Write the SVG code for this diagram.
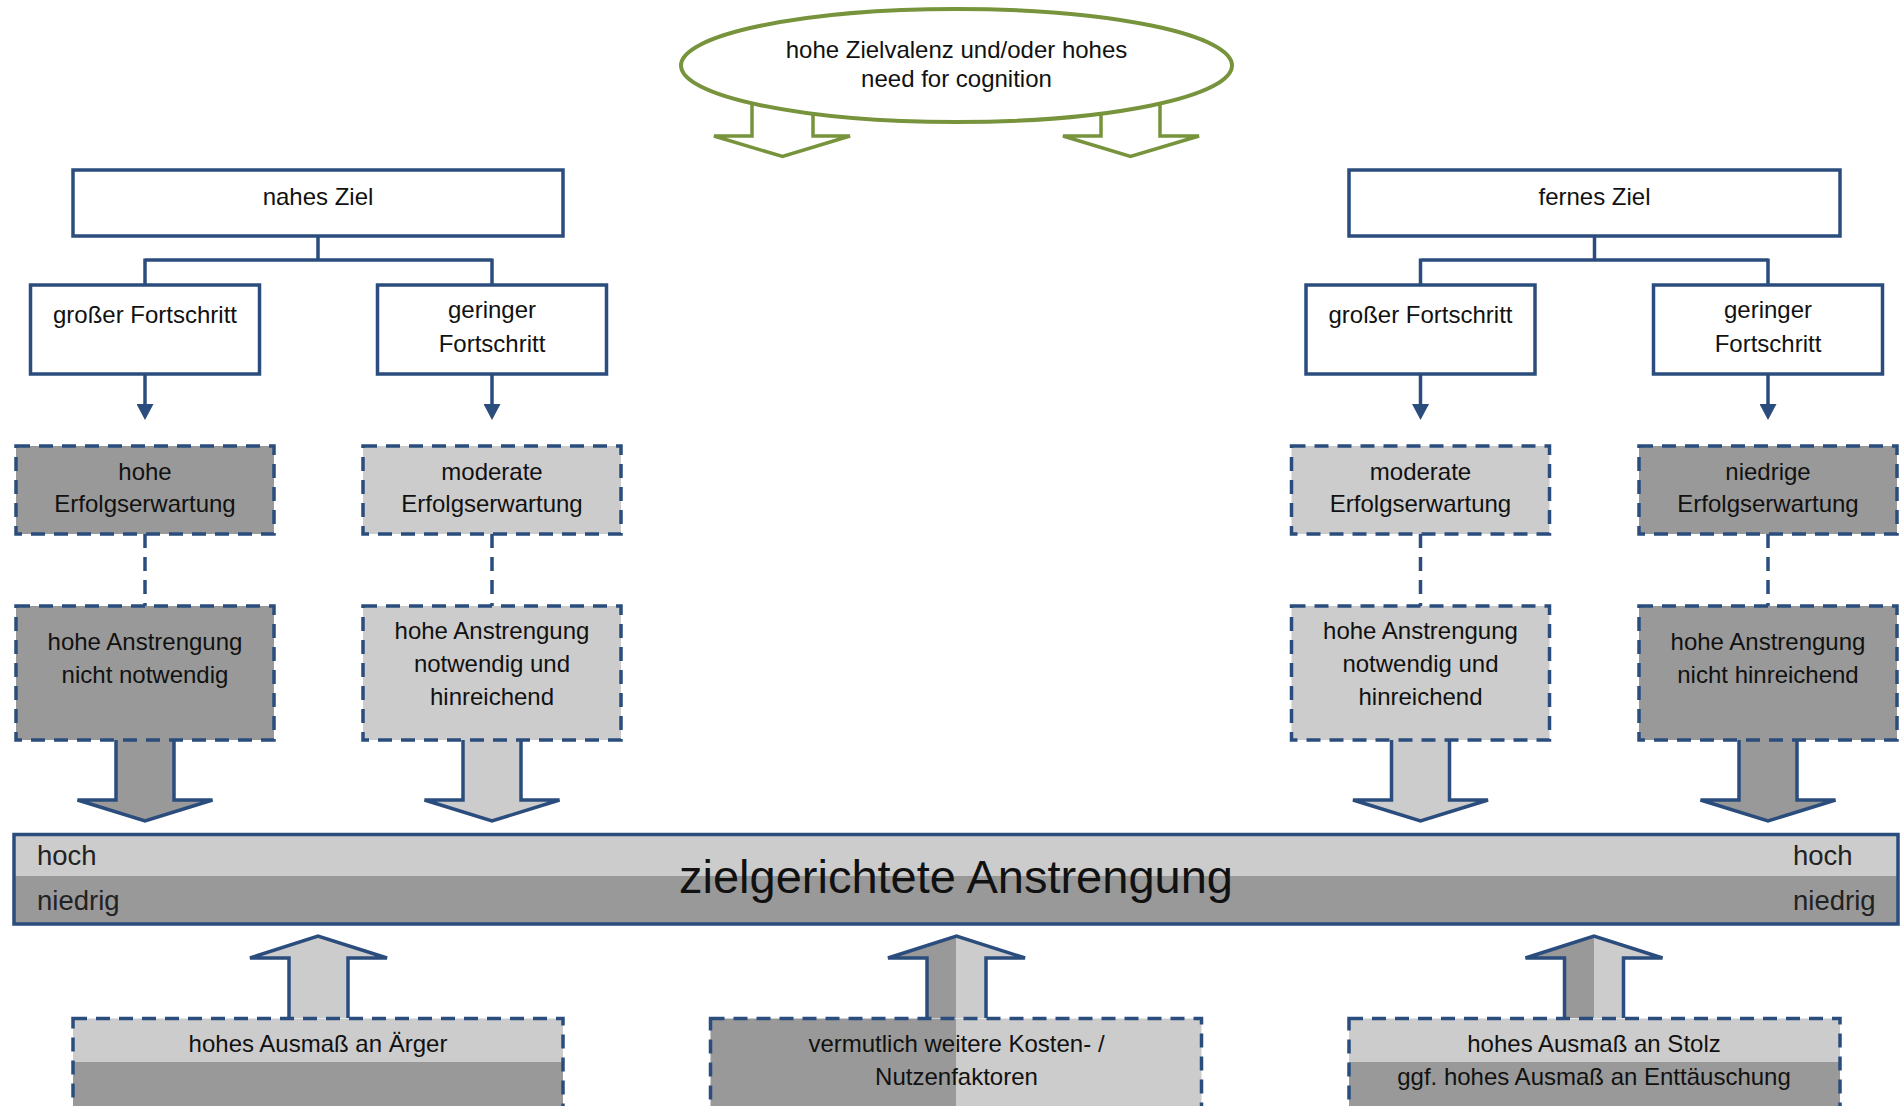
<svg xmlns="http://www.w3.org/2000/svg" width="1901" height="1106" viewBox="0 0 1901 1106">
<style>
.t{font-family:"Liberation Sans",Arial,sans-serif;font-size:24px;fill:#111;text-anchor:middle}
.big{font-size:47px}
.hl{font-family:"Liberation Sans",Arial,sans-serif;font-size:27.5px;fill:#222}
.solid{fill:#fff;stroke:#2B4D7E;stroke-width:3.5}
.db{stroke:#2B4D7E;stroke-width:3.5;stroke-dasharray:14 9}
.dk{fill:#999}
.lt{fill:#ccc}
.nf{fill:none}
.ln{fill:none;stroke:#2B4D7E;stroke-width:3.5}
.dl{fill:none;stroke:#2B4D7E;stroke-width:3.5;stroke-dasharray:14 9}
.ga{fill:#fff;stroke:#77933C;stroke-width:3.5}
.bo{stroke:#2B4D7E;stroke-width:3.5;stroke-linejoin:miter}
</style>
<defs>
<marker id="ah" markerUnits="userSpaceOnUse" markerWidth="16" markerHeight="17" viewBox="0 0 16 17" refX="0" refY="8.5" orient="auto">
<path d="M0,0 L16,8.5 L0,17 z" fill="#2B4D7E"/>
</marker>
</defs>
<rect width="1901" height="1106" fill="#fff"/>

<g id="connectors">
<path class="ga" d="M752,95 L752,136 L714,136 L782.5,156.5 L850,136 L813,136 L813,95"/>
<path class="ga" d="M1101,95 L1101,136 L1063,136 L1130.5,156.5 L1199,136 L1160,136 L1160,95"/>
<path class="ln" d="M318,236 L318,260 M145,260 L492,260 M145,258.5 L145,285 M492,258.5 L492,285"/>
<path class="ln" d="M1594.5,236 L1594.5,260 M1420.5,260 L1768,260 M1420.5,258.5 L1420.5,285 M1768,258.5 L1768,285"/>
<line class="ln" x1="145" y1="374" x2="145" y2="404" marker-end="url(#ah)"/>
<line class="ln" x1="492" y1="374" x2="492" y2="404" marker-end="url(#ah)"/>
<line class="ln" x1="1420.5" y1="374" x2="1420.5" y2="404" marker-end="url(#ah)"/>
<line class="ln" x1="1768" y1="374" x2="1768" y2="404" marker-end="url(#ah)"/>
<line class="dl" x1="145" y1="534" x2="145" y2="606"/>
<line class="dl" x1="492" y1="534" x2="492" y2="606"/>
<line class="dl" x1="1420.5" y1="534" x2="1420.5" y2="606"/>
<line class="dl" x1="1768" y1="534" x2="1768" y2="606"/>
<path class="dk bo" d="M116,740 L116,800 L77.5,800 L145,821 L212.5,800 L174,800 L174,740"/>
<path class="lt bo" d="M463,740 L463,800 L424.5,800 L492,821 L559.5,800 L521,800 L521,740"/>
<path class="lt bo" d="M1391.5,740 L1391.5,800 L1353,800 L1420.5,821 L1488,800 L1449.5,800 L1449.5,740"/>
<path class="dk bo" d="M1739,740 L1739,800 L1700.5,800 L1768,821 L1835.5,800 L1797,800 L1797,740"/>
<path class="lt" d="M289,1018 L289,958 L250,958 L318,936 L387,958 L348,958 L348,1018 Z"/>
<path class="ln" d="M289,1018 L289,958 L250,958 L318,936 L387,958 L348,958 L348,1018"/>
<path class="dk" d="M956.5,936 L888,958 L927,958 L927,1018 L956.5,1018 Z"/>
<path class="lt" d="M956.5,936 L1025,958 L986,958 L986,1018 L956.5,1018 Z"/>
<path class="ln" d="M927,1018 L927,958 L888,958 L956.5,936 L1025,958 L986,958 L986,1018"/>
<path class="dk" d="M1594,936 L1525.5,958 L1564.5,958 L1564.5,1018 L1594,1018 Z"/>
<path class="lt" d="M1594,936 L1662.5,958 L1623.5,958 L1623.5,1018 L1594,1018 Z"/>
<path class="ln" d="M1564.5,1018 L1564.5,958 L1525.5,958 L1594,936 L1662.5,958 L1623.5,958 L1623.5,1018"/>
</g>

<g id="node-ellipse">
<ellipse cx="956.5" cy="65.5" rx="275.5" ry="56.5" fill="#fff" stroke="#77933C" stroke-width="4"/>
<text class="t" x="956.5" y="58">hohe Zielvalenz und/oder hohes</text>
<text class="t" x="956.5" y="87">need for cognition</text>
</g>

<g id="node-nahes-ziel">
<rect class="solid" x="73" y="170" width="490" height="66"/>
<text class="t" x="318" y="205">nahes Ziel</text>
</g>
<g id="node-fernes-ziel">
<rect class="solid" x="1349" y="170" width="491" height="66"/>
<text class="t" x="1594.5" y="205">fernes Ziel</text>
</g>

<g id="node-grosser-1">
<rect class="solid" x="30.5" y="285" width="229" height="89"/>
<text class="t" x="145" y="323">großer Fortschritt</text>
</g>
<g id="node-geringer-1">
<rect class="solid" x="377.5" y="285" width="229" height="89"/>
<text class="t" x="492" y="318">geringer</text>
<text class="t" x="492" y="352">Fortschritt</text>
</g>
<g id="node-grosser-2">
<rect class="solid" x="1306" y="285" width="229" height="89"/>
<text class="t" x="1420.5" y="323">großer Fortschritt</text>
</g>
<g id="node-geringer-2">
<rect class="solid" x="1653.5" y="285" width="229" height="89"/>
<text class="t" x="1768" y="318">geringer</text>
<text class="t" x="1768" y="352">Fortschritt</text>
</g>

<g id="node-hohe-ew">
<rect class="dk db" x="16" y="446" width="258" height="88"/>
<text class="t" x="145" y="480">hohe</text>
<text class="t" x="145" y="512">Erfolgserwartung</text>
</g>
<g id="node-moderate-ew-1">
<rect class="lt db" x="363" y="446" width="258" height="88"/>
<text class="t" x="492" y="480">moderate</text>
<text class="t" x="492" y="512">Erfolgserwartung</text>
</g>
<g id="node-moderate-ew-2">
<rect class="lt db" x="1291.5" y="446" width="258" height="88"/>
<text class="t" x="1420.5" y="480">moderate</text>
<text class="t" x="1420.5" y="512">Erfolgserwartung</text>
</g>
<g id="node-niedrige-ew">
<rect class="dk db" x="1639" y="446" width="258" height="88"/>
<text class="t" x="1768" y="480">niedrige</text>
<text class="t" x="1768" y="512">Erfolgserwartung</text>
</g>

<g id="node-nicht-notwendig">
<rect class="dk db" x="16" y="606" width="258" height="134"/>
<text class="t" x="145" y="650">hohe Anstrengung</text>
<text class="t" x="145" y="683">nicht notwendig</text>
</g>
<g id="node-notwendig-1">
<rect class="lt db" x="363" y="606" width="258" height="134"/>
<text class="t" x="492" y="639">hohe Anstrengung</text>
<text class="t" x="492" y="672">notwendig und</text>
<text class="t" x="492" y="705">hinreichend</text>
</g>
<g id="node-notwendig-2">
<rect class="lt db" x="1291.5" y="606" width="258" height="134"/>
<text class="t" x="1420.5" y="639">hohe Anstrengung</text>
<text class="t" x="1420.5" y="672">notwendig und</text>
<text class="t" x="1420.5" y="705">hinreichend</text>
</g>
<g id="node-nicht-hinreichend">
<rect class="dk db" x="1639" y="606" width="258" height="134"/>
<text class="t" x="1768" y="650">hohe Anstrengung</text>
<text class="t" x="1768" y="683">nicht hinreichend</text>
</g>

<g id="node-anstrengung">
<rect class="lt" x="14" y="834.5" width="1884" height="41.5"/>
<rect class="dk" x="14" y="876" width="1884" height="48"/>
<rect x="14" y="834.5" width="1884" height="89.5" fill="none" stroke="#2B4D7E" stroke-width="3.5"/>
<text class="hl" x="37" y="865">hoch</text>
<text class="hl" x="37" y="910">niedrig</text>
<text class="hl" x="1793" y="865">hoch</text>
<text class="hl" x="1793" y="910">niedrig</text>
<text class="t big" x="956" y="893">zielgerichtete Anstrengung</text>
</g>

<g id="node-aerger">
<rect class="lt" x="73" y="1018.5" width="490" height="43.5"/>
<rect class="dk" x="73" y="1062" width="490" height="70"/>
<rect class="nf db" x="73" y="1018.5" width="490" height="113"/>
<text class="t" x="318" y="1052">hohes Ausmaß an Ärger</text>
</g>
<g id="node-kosten">
<rect class="dk" x="710.5" y="1018.5" width="246" height="113"/>
<rect class="lt" x="956.5" y="1018.5" width="245" height="113"/>
<rect class="nf db" x="710.5" y="1018.5" width="491" height="113"/>
<text class="t" x="956.5" y="1052">vermutlich weitere Kosten- /</text>
<text class="t" x="956.5" y="1085">Nutzenfaktoren</text>
</g>
<g id="node-stolz">
<rect class="lt" x="1349" y="1018.5" width="491" height="43.5"/>
<rect class="dk" x="1349" y="1062" width="491" height="70"/>
<rect class="nf db" x="1349" y="1018.5" width="491" height="113"/>
<text class="t" x="1594" y="1052">hohes Ausmaß an Stolz</text>
<text class="t" x="1594" y="1085">ggf. hohes Ausmaß an Enttäuschung</text>
</g>
</svg>
